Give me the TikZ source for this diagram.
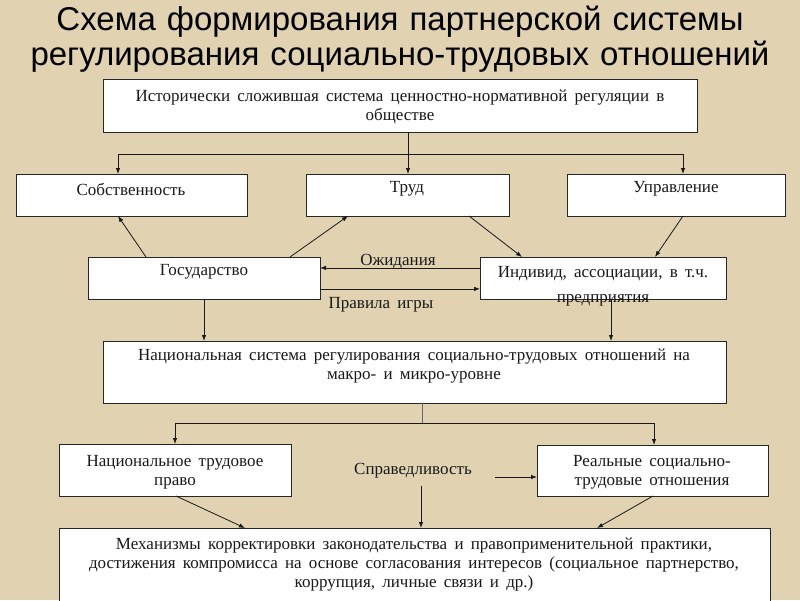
\documentclass[tikz,border=0pt]{standalone}
\usepackage{fontspec}
\setmainfont[WordSpace=1.7]{Liberation Serif}
\newfontfamily\titlefont[WordSpace=1.2]{Liberation Sans}
\usetikzlibrary{arrows.meta,calc}
\definecolor{bg}{RGB}{225,211,178}
\begin{document}
\begin{tikzpicture}[x=1pt,y=-1pt,
  box/.style={draw=black!85, fill=white, line width=0.9pt, inner sep=0pt, outer sep=0pt},
  txt/.style={font=\fontsize{17}{19}\selectfont, align=center, inner sep=0pt, text=black!90},
  ttl/.style={font=\titlefont\fontsize{33}{35}\selectfont, align=center, inner sep=0pt},
  ln/.style={line width=0.8pt, draw=black!90},
  arr/.style={ln, -{Latex[length=6pt,width=4.5pt]}}]
\fill[bg] (0,0) rectangle (800,600);
\useasboundingbox (0,0) rectangle (800,600);

\node[ttl] (title) at (400,39) {Схема формирования партнерской системы\\регулирования социально-трудовых отношений};

% boxes
\node[box, minimum width=594, minimum height=53] (hist) at (400,105.5) {};
\node[box, minimum width=231, minimum height=42] (sob) at (131.5,195) {};
\node[box, minimum width=203, minimum height=42] (trud) at (407.5,195) {};
\node[box, minimum width=218, minimum height=42] (upr) at (676,195) {};
\node[box, minimum width=232, minimum height=42] (gos) at (204,278) {};
\node[box, minimum width=246, minimum height=42] (ind) at (603,278) {};
\node[box, minimum width=623, minimum height=62] (nat) at (414.5,372) {};
\node[box, minimum width=232, minimum height=52] (pravo) at (175,470) {};
\node[box, minimum width=231, minimum height=51] (real) at (652.5,470.5) {};
\node[box, minimum width=711, minimum height=90] (mech) at (414.5,573) {};

% texts
\node[txt] (hist-t) at (400,107) {Исторически сложившая система ценностно-нормативной регуляции в\\обществе};
\node[txt] (sob-t) at (131,189) {Собственность};
\node[txt] (trud-t) at (407,189) {Труд};
\node[txt] (upr-t) at (676,189) {Управление};
\node[txt] (gos-t) at (204,272) {Государство};
\node[txt, font=\fontsize{17}{25}\selectfont] (ind-t) at (603,286) {Индивид, ассоциации, в т.ч.\\предприятия};
\node[txt] (nat-t) at (414,366) {Национальная система регулирования социально-трудовых отношений на\\макро- и микро-уровне};
\node[txt] (pravo-t) at (175,472) {Национальное трудовое\\право};
\node[txt] (real-t) at (652,472) {Реальные социально-\\трудовые отношения};
\node[txt] (mech-t) at (414,565) {Механизмы корректировки законодательства и правоприменительной практики,\\достижения компромисса на основе согласования интересов (социальное партнерство,\\коррупция, личные связи и др.)};
\node[txt] (ozh) at (398,262) {Ожидания};
\node[txt] (prav) at (381,305) {Правила игры};
\node[txt] (spr) at (413,471) {Справедливость};

% top distribution
\coordinate (j1) at (408,154);
\coordinate (jl) at (118,154);
\coordinate (jr) at (683,154);
\draw[ln] (hist.south -| j1) -- (j1);
\draw[ln] (jl) -- (jr);
\draw[arr] (jl) -- (jl |- sob.north);
\draw[arr] (j1) -- (j1 |- trud.north);
\draw[arr] (jr) -- (jr |- upr.north);

% middle diagonals
\draw[arr] ([xshift=58]gos.north west) -- ([xshift=102]sob.south west);
\draw[arr] ([xshift=202]gos.north west) -- ([xshift=42]trud.south west);
\draw[arr] ([xshift=163]trud.south west) -- ([xshift=42]ind.north west);
\draw[arr] ([xshift=116]upr.south west) -- ([xshift=175]ind.north west);

% horizontal exchange
\draw[arr] ($(ind.north west)!0.26!(ind.south west)$) -- ($(gos.north east)!0.26!(gos.south east)$);
\draw[arr] ($(gos.north east)!0.76!(gos.south east)$) -- ($(ind.north west)!0.76!(ind.south west)$);

% down to national
\draw[arr] (gos.south) -- (gos.south |- nat.north);
\coordinate (ib) at ([xshift=131]ind.south west);
\draw[arr] (ib) -- (ib |- nat.north);

% lower distribution
\coordinate (j2) at (422,423);
\coordinate (j2l) at (175,423);
\coordinate (j2r) at (654,423);
\draw[ln, draw=black!60] (nat.south -| j2) -- (j2);
\draw[ln] (j2l) -- (j2r);
\draw[arr] (j2l) -- (j2l |- pravo.north);
\draw[arr] (j2r) -- (j2r |- real.north);

% bottom
\coordinate (sa) at (495,477);
\draw[arr] (sa) -- (real.west |- sa);
\coordinate (sb) at (421,486);
\draw[arr] (sb) -- (sb |- mech.north);
\draw[arr] ([xshift=117]pravo.south west) -- ([xshift=186]mech.north west);
\draw[arr] ([xshift=116]real.south west) -- ([xshift=538]mech.north west);
\end{tikzpicture}
\end{document}
